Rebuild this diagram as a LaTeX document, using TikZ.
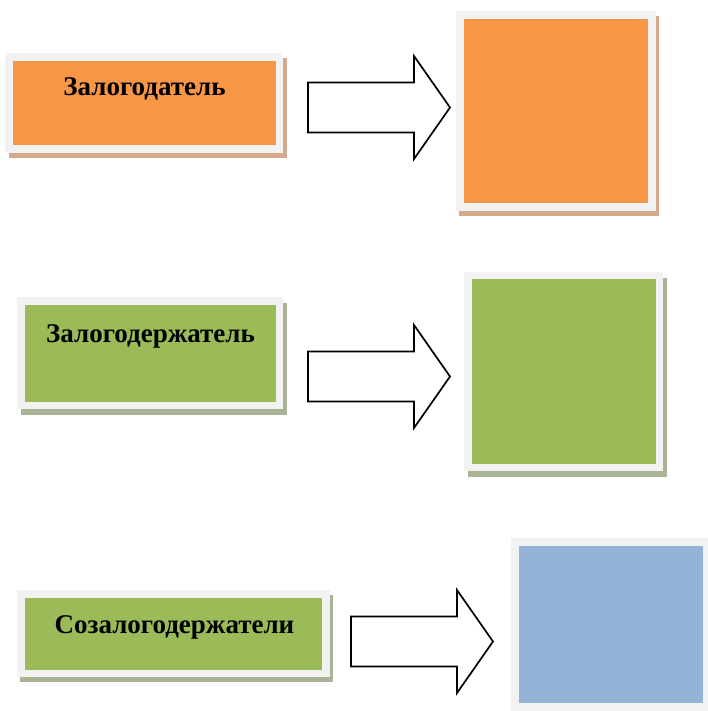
\documentclass[tikz,border=0pt]{standalone}
\usepackage{fontspec}
\setmainfont{Liberation Serif}
\usetikzlibrary{positioning, shadows}

\definecolor{framegray}{HTML}{F2F2F2}
\definecolor{orangefill}{HTML}{F79646}
\definecolor{orangeshade}{HTML}{D5AA8C}
\definecolor{greenfill}{HTML}{9BBB59}
\definecolor{greenshade}{HTML}{A9B496}
\definecolor{bluefill}{HTML}{95B3D7}

\begin{document}
\begin{tikzpicture}[x=1pt, y=-1pt,
  panel/.style={fill=framegray, inner sep=0pt, anchor=north west},
  card/.style={inner sep=0pt},
  boxtext/.style={font=\fontsize{27}{31}\selectfont\bfseries, anchor=base},
  blockarrow/.style={draw=black, line width=1.7pt, fill=white, line join=miter}]
\useasboundingbox (0,0) rectangle (707,711);

% Zalogodatel
\node[panel, minimum width=278pt, minimum height=100pt,
  general shadow={shadow xshift=3.5pt, shadow yshift=-5pt, fill=orangeshade}] (zgdfr) at (5,53) {};
\node[card, fill=orangefill, minimum width=263pt, minimum height=84pt] (zgd) at (zgdfr.center) {};
\node[boxtext] (zgdtxt) at (144.5,96) {Залогодатель};
\node[panel, minimum width=200pt, minimum height=200pt,
  general shadow={shadow xshift=3pt, shadow yshift=-5pt, fill=orangeshade}] (zgdresfr) at (456,11) {};
\node[card, fill=orangefill, minimum width=184pt, minimum height=184pt] (zgdres) at (zgdresfr.center) {};

% Zalogoderzhatel
\node[panel, minimum width=266pt, minimum height=112pt,
  general shadow={shadow xshift=3.5pt, shadow yshift=-6pt, fill=greenshade}] (zgdrfr) at (17,297) {};
\node[card, fill=greenfill, minimum width=251pt, minimum height=97pt] (zgdr) at (zgdrfr.center) {};
\node[boxtext] (zgdrtxt) at (150.5,342) {Залогодержатель};
\node[panel, minimum width=199pt, minimum height=199pt,
  general shadow={shadow xshift=3.5pt, shadow yshift=-6pt, fill=greenshade}] (zgdrresfr) at (464,272) {};
\node[card, fill=greenfill, minimum width=184pt, minimum height=185pt] (zgdrres) at (zgdrresfr.center) {};

% Sozalogoderzhateli
\node[panel, minimum width=313pt, minimum height=87pt,
  general shadow={shadow xshift=3pt, shadow yshift=-5pt, fill=greenshade}] (szgdfr) at (17,590) {};
\node[card, fill=greenfill, minimum width=297pt, minimum height=72pt] (szgd) at (szgdfr.center) {};
\node[boxtext] (szgdtxt) at (174.5,633) {Созалогодержатели};
\node[panel, minimum width=200pt, minimum height=173pt] (szgdresfr) at (511,538) {};
\node[card, fill=bluefill, minimum width=184pt, minimum height=157pt, anchor=north west] (szgdres) at (519,546) {};

% Block arrows
\foreach \x/\y in {308/107.5, 308/376.5, 351/641.5} {
    \draw[blockarrow] (\x,\y-25) -- (\x+106,\y-25) -- (\x+106,\y-51.5) -- (\x+142,\y)
      -- (\x+106,\y+51.5) -- (\x+106,\y+25) -- (\x,\y+25) -- cycle;
}
\end{tikzpicture}
\end{document}
